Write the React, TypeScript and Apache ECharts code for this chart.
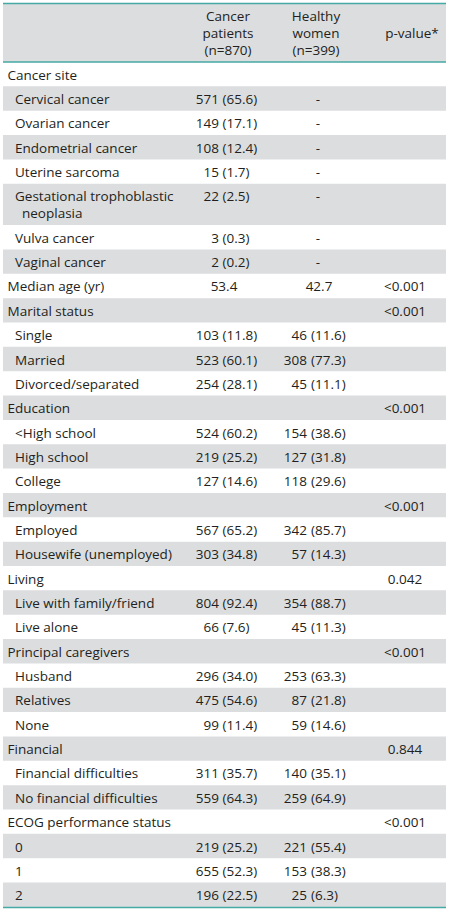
import React, { useEffect, useRef } from "react";
import * as echarts from "echarts";

// ---------- DATA ----------
const headerCancer = ["Cancer", "patients", "(n=870)"];
const headerHealthy = ["Healthy", "women", "(n=399)"];
const headerP = "p-value*";

const rowLabels: string[][] = [
  ["Cancer site"],
  ["Cervical cancer"],
  ["Ovarian cancer"],
  ["Endometrial cancer"],
  ["Uterine sarcoma"],
  ["Gestational trophoblastic", "neoplasia"],
  ["Vulva cancer"],
  ["Vaginal cancer"],
  ["Median age (yr)"],
  ["Marital status"],
  ["Single"],
  ["Married"],
  ["Divorced/separated"],
  ["Education"],
  ["<High school"],
  ["High school"],
  ["College"],
  ["Employment"],
  ["Employed"],
  ["Housewife (unemployed)"],
  ["Living"],
  ["Live with family/friend"],
  ["Live alone"],
  ["Principal caregivers"],
  ["Husband"],
  ["Relatives"],
  ["None"],
  ["Financial"],
  ["Financial difficulties"],
  ["No financial difficulties"],
  ["ECOG performance status"],
  ["0"],
  ["1"],
  ["2"],
];
const rowIndent = [0, 1, 1, 1, 1, 1, 1, 1, 0, 0, 1, 1, 1, 0, 1, 1, 1, 0, 1, 1, 0, 1, 1, 0, 1, 1, 1, 0, 1, 1, 0, 1, 1, 1];

const cancerN = [null, 571, 149, 108, 15, 22, 3, 2, null, null, 103, 523, 254, null, 524, 219, 127, null, 567, 303, null, 804, 66, null, 296, 475, 99, null, 311, 559, null, 219, 655, 196];
const cancerPct = [null, "65.6", "17.1", "12.4", "1.7", "2.5", "0.3", "0.2", null, null, "11.8", "60.1", "28.1", null, "60.2", "25.2", "14.6", null, "65.2", "34.8", null, "92.4", "7.6", null, "34.0", "54.6", "11.4", null, "35.7", "64.3", null, "25.2", "52.3", "22.5"];
const healthyN = [null, "-", "-", "-", "-", "-", "-", "-", null, null, 46, 308, 45, null, 154, 127, 118, null, 342, 57, null, 354, 45, null, 253, 87, 59, null, 140, 259, null, 221, 153, 25];
const healthyPct = [null, null, null, null, null, null, null, null, null, null, "11.6", "77.3", "11.1", null, "38.6", "31.8", "29.6", null, "85.7", "14.3", null, "88.7", "11.3", null, "63.3", "21.8", "14.6", null, "35.1", "64.9", null, "55.4", "38.3", "6.3"];
const medianAge = { row: 8, cancer: "53.4", healthy: "42.7" };
const pValues = ["", "", "", "", "", "", "", "", "<0.001", "<0.001", "", "", "", "<0.001", "", "", "", "<0.001", "", "", "0.042", "", "", "<0.001", "", "", "", "0.844", "", "", "<0.001", "", "", ""];

// ---------- LAYOUT / STYLE ----------
const W = 449;
const H = 913;
const LEFT = 3;
const RIGHT = 446;
const TOP = 3.5;
const HEADER_BOTTOM = 62;
const ROW_H = 24.35;
const LINE_H = 17;
const TEAL = "#45a9a4";
const GRAY = "#dcdddf";
const INK = "#231f20";
const FONT = "13.5px 'Open Sans', sans-serif";
const X_LABEL0 = 7.5;
const X_LABEL1 = 15;
const X_WRAP = 22;
const X_C_N = 219;
const X_C_P = 222.5;
const X_C_MID = 226;
const X_H_N = 307;
const X_H_P = 311;
const X_H_MID = 318;
const X_P = 405;
const X_P_HEAD = 412;

const rowTops: number[] = [];
const rowHeights: number[] = [];
{
  let y = HEADER_BOTTOM;
  rowLabels.forEach((l) => {
    const h = ROW_H + (l.length - 1) * LINE_H;
    rowTops.push(y);
    rowHeights.push(h);
    y += h;
  });
}

function txt(api: any, x: number, y: number, text: string, align: string) {
  const p = api.coord([x, y]);
  return {
    type: "text",
    style: {
      text,
      x: p[0],
      y: p[1],
      fill: INK,
      font: FONT,
      textAlign: align,
      align,
      textVerticalAlign: "middle",
      verticalAlign: "middle",
    },
  };
}

function renderHeader(_params: any, api: any) {
  const tl = api.coord([LEFT, TOP]);
  const br = api.coord([RIGHT, HEADER_BOTTOM]);
  const children: any[] = [
    { type: "rect", shape: { x: tl[0], y: tl[1], width: br[0] - tl[0], height: br[1] - tl[1] }, style: { fill: GRAY } },
    { type: "line", shape: { x1: tl[0], y1: tl[1], x2: br[0], y2: tl[1] }, style: { stroke: TEAL, lineWidth: 1.5 } },
    { type: "line", shape: { x1: tl[0], y1: br[1], x2: br[0], y2: br[1] }, style: { stroke: TEAL, lineWidth: 1.5 } },
  ];
  const mid = (TOP + HEADER_BOTTOM) / 2 + 0.5;
  headerCancer.forEach((t, i) => children.push(txt(api, X_C_MID + 2, mid + (i - 1) * LINE_H, t, "center")));
  headerHealthy.forEach((t, i) => children.push(txt(api, X_H_MID - 2, mid + (i - 1) * LINE_H, t, "center")));
  children.push(txt(api, X_P_HEAD, mid, headerP, "center"));
  return { type: "group", children };
}

function renderRow(_params: any, api: any) {
  const i = api.value(0);
  const top = rowTops[i];
  const h = rowHeights[i];
  const children: any[] = [];
  if (i % 2 === 1) {
    const tl = api.coord([LEFT, top]);
    const br = api.coord([RIGHT, top + h]);
    children.push({ type: "rect", shape: { x: tl[0], y: tl[1], width: br[0] - tl[0], height: br[1] - tl[1] }, style: { fill: GRAY } });
  }
  const yc = top + ROW_H / 2 + 0.5;
  const lines = rowLabels[i];
  lines.forEach((t, k) => {
    const x = k === 0 ? (rowIndent[i] ? X_LABEL1 : X_LABEL0) : X_WRAP;
    children.push(txt(api, x, yc + k * LINE_H, t, "left"));
  });
  if (i === medianAge.row) {
    children.push(txt(api, X_C_MID - 2, yc, medianAge.cancer, "center"));
    children.push(txt(api, X_H_MID + 1, yc, medianAge.healthy, "center"));
  }
  if (cancerN[i] != null) {
    children.push(txt(api, X_C_N, yc, String(cancerN[i]), "right"));
    children.push(txt(api, X_C_P, yc, "(" + cancerPct[i] + ")", "left"));
  }
  if (healthyN[i] === "-") {
    children.push(txt(api, X_H_MID, yc, "-", "center"));
  } else if (healthyN[i] != null) {
    children.push(txt(api, X_H_N, yc, String(healthyN[i]), "right"));
    children.push(txt(api, X_H_P, yc, "(" + healthyPct[i] + ")", "left"));
  }
  if (pValues[i]) children.push(txt(api, X_P, yc, pValues[i], "center"));
  if (i === rowLabels.length - 1) {
    const a = api.coord([LEFT, top + h]);
    const b = api.coord([RIGHT, top + h]);
    children.push({ type: "line", shape: { x1: a[0], y1: a[1] + 0.5, x2: b[0], y2: b[1] + 0.5 }, style: { stroke: TEAL, lineWidth: 1.5 } });
  }
  return { type: "group", children };
}

export default function App() {
  const ref = useRef<HTMLDivElement>(null);
  useEffect(() => {
    if (!ref.current) return;
    const chart = echarts.init(ref.current, null, { renderer: "svg" });
    chart.setOption({
      animation: false,
      backgroundColor: "#ffffff",
      grid: { left: 0, right: 0, top: 0, bottom: 0 },
      xAxis: { type: "value", min: 0, max: W, show: false },
      yAxis: { type: "value", min: 0, max: H, inverse: true, show: false },
      series: [
        {
          type: "custom",
          silent: true,
          clip: false,
          data: [[0]],
          renderItem: renderHeader,
        },
        {
          type: "custom",
          silent: true,
          clip: false,
          data: rowLabels.map((_, i) => [i]),
          renderItem: renderRow,
        },
      ],
    });
    return () => chart.dispose();
  }, []);
  return <div ref={ref} style={{ position: "fixed", left: 0, top: 0, width: W, height: H }} />;
}
